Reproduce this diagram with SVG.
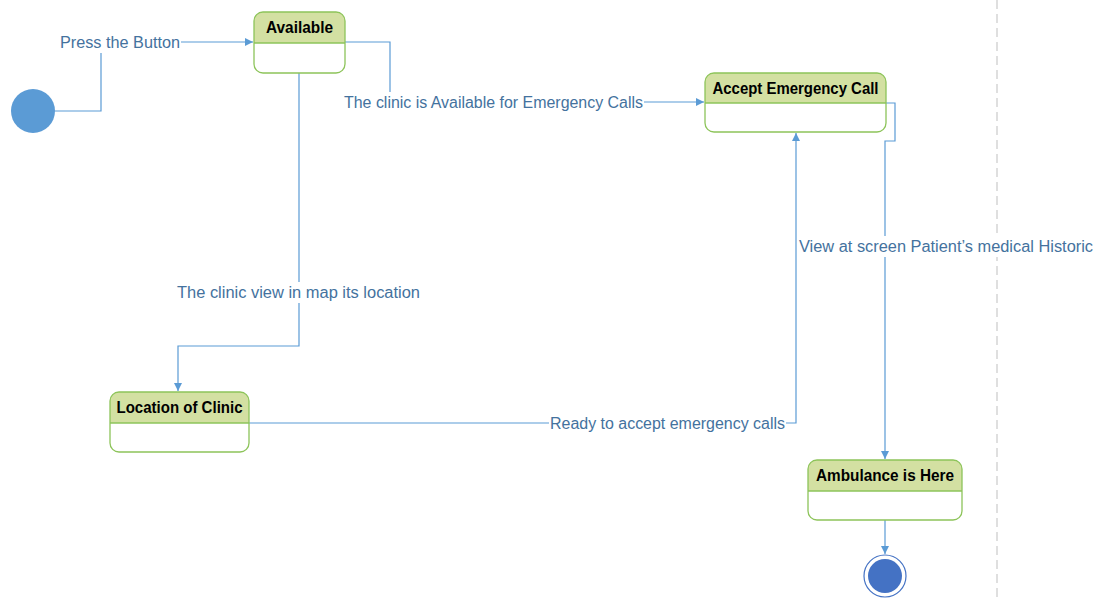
<svg xmlns="http://www.w3.org/2000/svg" width="1099" height="602" viewBox="0 0 1099 602">
  <style>
    .edge { fill: none; stroke: #5B9BD5; stroke-width: 1.2; }
    .lbl { font-family: "Liberation Sans", "Open Sans", sans-serif; font-size: 16px; fill: #44729E; }
    .lblbg { fill: #FFFFFF; }
    .state { fill: none; stroke: #8DC45A; stroke-width: 1.3; }
    .head { fill: #D3E0A2; }
    .sep { stroke: #8DC45A; stroke-width: 1.3; }
    .title { font-family: "Liberation Sans", "Open Sans", sans-serif; font-size: 16px; font-weight: bold; fill: #000000; text-anchor: middle; }
  </style>
  <defs>
    <marker id="arrow" viewBox="0 0 10 10" refX="10" refY="5" markerWidth="9" markerHeight="8" markerUnits="userSpaceOnUse" orient="auto">
      <path d="M0,0 L10,5 L0,10 z" fill="#5B9BD5"/>
    </marker>
    <clipPath id="clipAvail"><rect x="254" y="12" width="91" height="61" rx="9"/></clipPath>
    <clipPath id="clipAccept"><rect x="705" y="73" width="181" height="59" rx="9"/></clipPath>
    <clipPath id="clipLoc"><rect x="110" y="392" width="139" height="60" rx="9"/></clipPath>
    <clipPath id="clipAmb"><rect x="808" y="460" width="154" height="60" rx="9"/></clipPath>
  </defs>

  <rect width="1099" height="602" fill="#FFFFFF"/>

  <!-- swimlane boundary -->
  <line x1="997" y1="0" x2="997" y2="602" stroke="#BFBFBF" stroke-width="1" stroke-dasharray="9,5"/>

  <g id="connectors">
    <path class="edge" d="M55,111 H101 V42 H253" marker-end="url(#arrow)"/>
    <path class="edge" d="M345,42 H390 V102 H704" marker-end="url(#arrow)"/>
    <path class="edge" d="M299,73 V346 H178 V391" marker-end="url(#arrow)"/>
    <path class="edge" d="M249,423 H796 V133" marker-end="url(#arrow)"/>
    <path class="edge" d="M886,103 H895 V141 H885 V459" marker-end="url(#arrow)"/>
    <path class="edge" d="M885,520 V554" marker-end="url(#arrow)"/>

    <rect class="lblbg" x="59" y="32" width="122" height="21"/>
    <text class="lbl" x="60" y="48" textLength="120" lengthAdjust="spacingAndGlyphs">Press the Button</text>

    <rect class="lblbg" x="343" y="92" width="301" height="21"/>
    <text class="lbl" x="344" y="108" textLength="299" lengthAdjust="spacingAndGlyphs">The clinic is Available for Emergency Calls</text>

    <rect class="lblbg" x="176" y="282" width="245" height="21"/>
    <text class="lbl" x="177" y="298" textLength="243" lengthAdjust="spacingAndGlyphs">The clinic view in map its location</text>

    <rect class="lblbg" x="549" y="413" width="237" height="21"/>
    <text class="lbl" x="550" y="429" textLength="235" lengthAdjust="spacingAndGlyphs">Ready to accept emergency calls</text>

    <rect class="lblbg" x="798" y="236" width="296" height="21"/>
    <text class="lbl" x="799" y="252" textLength="294" lengthAdjust="spacingAndGlyphs">View at screen Patient’s medical Historic</text>
  </g>

  <g id="initial">
    <circle cx="33" cy="111" r="22" fill="#5B9BD5"/>
  </g>

  <g id="available">
    <rect x="254" y="12" width="91" height="61" rx="9" fill="#FFFFFF"/>
    <rect class="head" x="254" y="12" width="91" height="31" clip-path="url(#clipAvail)"/>
    <line class="sep" x1="254" y1="43" x2="345" y2="43"/>
    <rect class="state" x="254" y="12" width="91" height="61" rx="9"/>
    <text class="title" x="299.5" y="33" textLength="67" lengthAdjust="spacingAndGlyphs">Available</text>
  </g>

  <g id="accept-emergency-call">
    <rect x="705" y="73" width="181" height="59" rx="9" fill="#FFFFFF"/>
    <rect class="head" x="705" y="73" width="181" height="30" clip-path="url(#clipAccept)"/>
    <line class="sep" x1="705" y1="103" x2="886" y2="103"/>
    <rect class="state" x="705" y="73" width="181" height="59" rx="9"/>
    <text class="title" x="795.5" y="94" textLength="166" lengthAdjust="spacingAndGlyphs">Accept Emergency Call</text>
  </g>

  <g id="location-of-clinic">
    <rect x="110" y="392" width="139" height="60" rx="9" fill="#FFFFFF"/>
    <rect class="head" x="110" y="392" width="139" height="31" clip-path="url(#clipLoc)"/>
    <line class="sep" x1="110" y1="423" x2="249" y2="423"/>
    <rect class="state" x="110" y="392" width="139" height="60" rx="9"/>
    <text class="title" x="179.5" y="413" textLength="126" lengthAdjust="spacingAndGlyphs">Location of Clinic</text>
  </g>

  <g id="ambulance-is-here">
    <rect x="808" y="460" width="154" height="60" rx="9" fill="#FFFFFF"/>
    <rect class="head" x="808" y="460" width="154" height="31" clip-path="url(#clipAmb)"/>
    <line class="sep" x1="808" y1="491" x2="962" y2="491"/>
    <rect class="state" x="808" y="460" width="154" height="60" rx="9"/>
    <text class="title" x="885" y="481" textLength="138" lengthAdjust="spacingAndGlyphs">Ambulance is Here</text>
  </g>

  <g id="final">
    <circle cx="885" cy="576" r="21" fill="#FFFFFF" stroke="#4472C4" stroke-width="1.2"/>
    <circle cx="885" cy="576" r="17" fill="#4472C4"/>
  </g>
</svg>
